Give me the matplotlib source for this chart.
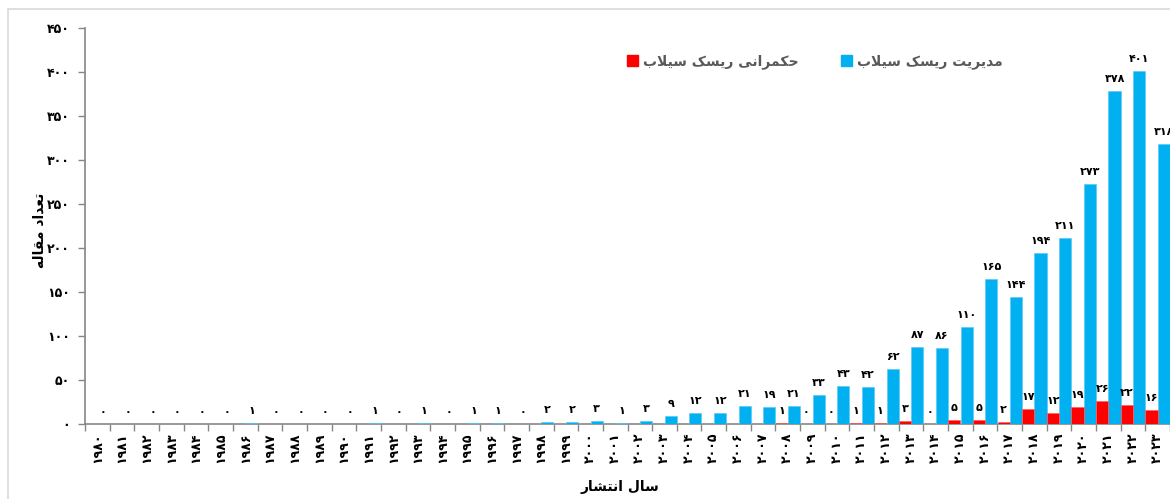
import numpy as np
import matplotlib
matplotlib.use("Agg")
import matplotlib.pyplot as plt
from matplotlib.patches import Rectangle, Patch

# data
years = list(range(1980, 2024))
management = [0, 0, 0, 0, 0, 0, 1, 0, 0, 0, 0, 1, 0, 1, 0, 1, 1, 0, 2, 2,
              3, 1, 3, 9, 12, 12, 21, 19, 21, 33, 43, 42, 62, 87, 86, 110,
              165, 144, 194, 211, 273, 378, 401, 318]
governance_years = list(range(2008, 2024))
governance = [1, 0, 0, 1, 1, 3, 0, 5, 5, 2, 17, 12, 19, 26, 22, 16]

label_management = "مدیریت ریسک سیلاب"
label_governance = "حکمرانی ریسک سیلاب"
xlabel = "سال انتشار"
ylabel = "تعداد مقاله"

BLUE = "#00B0F0"
RED = "#FF0000"
GRAY = "#868686"

# simple arabic/persian shaping (matplotlib 3.10 has no complex text layout)
FORMS = {
    "ا": (0xFE8D, 0xFE8E), "د": (0xFEA9, 0xFEAA), "ر": (0xFEAD, 0xFEAE),
    "ب": (0xFE8F, 0xFE90, 0xFE91, 0xFE92), "ت": (0xFE95, 0xFE96, 0xFE97, 0xFE98),
    "ح": (0xFEA1, 0xFEA2, 0xFEA3, 0xFEA4), "س": (0xFEB1, 0xFEB2, 0xFEB3, 0xFEB4),
    "ش": (0xFEB5, 0xFEB6, 0xFEB7, 0xFEB8), "ع": (0xFEC9, 0xFECA, 0xFECB, 0xFECC),
    "ق": (0xFED5, 0xFED6, 0xFED7, 0xFED8), "ل": (0xFEDD, 0xFEDE, 0xFEDF, 0xFEE0),
    "م": (0xFEE1, 0xFEE2, 0xFEE3, 0xFEE4), "ن": (0xFEE5, 0xFEE6, 0xFEE7, 0xFEE8),
    "ه": (0xFEE9, 0xFEEA, 0xFEEB, 0xFEEC), "ک": (0xFB8E, 0xFB8F, 0xFB90, 0xFB91),
    "ی": (0xFBFC, 0xFBFD, 0xFBFE, 0xFBFF),
}


def dual(c):
    return c in FORMS and len(FORMS[c]) == 4


def shape(text):
    out = []
    i, n = 0, len(text)
    while i < n:
        c = text[i]
        if c not in FORMS:
            out.append(c)
            i += 1
            continue
        prev_joins = i > 0 and dual(text[i - 1])
        if c == "ل" and i + 1 < n and text[i + 1] == "ا":
            out.append(chr(0xFEFC if prev_joins else 0xFEFB))
            i += 2
            continue
        next_joins = dual(c) and i + 1 < n and text[i + 1] in FORMS
        f = FORMS[c]
        if prev_joins and next_joins:
            out.append(chr(f[3]))
        elif prev_joins:
            out.append(chr(f[1]))
        elif next_joins:
            out.append(chr(f[2]))
        else:
            out.append(chr(f[0]))
        i += 1
    return "".join(out)[::-1]


def fa_num(v):
    return str(v).translate(str.maketrans("0123456789", "۰۱۲۳۴۵۶۷۸۹"))


plt.rcParams["font.family"] = ["DejaVu Sans"]
plt.rcParams["font.weight"] = "bold"

fig = plt.figure(figsize=(11.7, 4.99), dpi=100)
ax = fig.add_axes([85 / 1170, 75 / 499, 1 - 85 / 1170, 396 / 499])

# chart area border
fig.patches.append(Rectangle((8 / 1170, -0.1), 1.2, (499 - 9) / 499 + 0.1,
                             transform=fig.transFigure, fill=False,
                             edgecolor="#D9D9D9", linewidth=1.2))

x = np.arange(len(years))
gx = np.array([years.index(y) for y in governance_years])
w = 0.49

bars_m = ax.bar(x + 0.25, management, width=w, color=BLUE,
                edgecolor="#5CCBF5", linewidth=0.5, zorder=3)
bars_g = ax.bar(gx - 0.25, governance, width=w, color=RED,
                edgecolor="#FF6060", linewidth=0.5, zorder=3)

for rect, v in zip(bars_m, management):
    ax.annotate(fa_num(v), (rect.get_x() + rect.get_width() / 2, v),
                xytext=(0, 5), textcoords="offset points", ha="center",
                va="bottom", fontsize=8, fontweight="bold", annotation_clip=False)
for rect, v in zip(bars_g, governance):
    ax.annotate(fa_num(v), (rect.get_x() + rect.get_width() / 2, v),
                xytext=(0, 5), textcoords="offset points", ha="center",
                va="bottom", fontsize=8, fontweight="bold", annotation_clip=False)

ax.set_xlim(-0.5, len(years) - 0.5)
ax.set_ylim(0, 450)
ax.set_yticks(np.arange(0, 451, 50))
ax.set_yticklabels([fa_num(v) for v in range(0, 451, 50)], fontsize=9, fontweight="bold")
ax.set_xticks(x)
ax.set_xticklabels([fa_num(y) for y in years], rotation=90, fontsize=9, fontweight="bold")
ax.set_xticks(np.arange(-0.5, len(years), 1), minor=True)
ax.tick_params(axis="x", which="major", length=0, pad=6)
ax.tick_params(axis="x", which="minor", length=5, color=GRAY, width=1)
ax.tick_params(axis="y", length=5, color=GRAY, width=1, pad=6)

for s in ("top", "right"):
    ax.spines[s].set_visible(False)
for s in ("left", "bottom"):
    ax.spines[s].set_color(GRAY)
    ax.spines[s].set_linewidth(1.2)
ax.set_facecolor("none")

fig.text(40 / 1170, 1 - 230 / 499, shape(ylabel), rotation=90, ha="center",
         va="center", fontsize=10, fontweight="bold")
fig.text(620 / 1170, 1 - 487 / 499, shape(xlabel), ha="center", va="center",
         fontsize=10, fontweight="bold")

handles = [Patch(color=RED), Patch(color=BLUE)]
fig.legend(handles, [shape(label_governance), shape(label_management)],
           ncol=2, loc="center", bbox_to_anchor=(815 / 1170, 1 - 62 / 499),
           frameon=False, handlelength=0.8, handleheight=0.8, handletextpad=0.4,
           columnspacing=3.0, prop={"size": 10, "weight": "bold"},
           labelcolor="#595959")

fig.savefig("out.png", dpi=100)
